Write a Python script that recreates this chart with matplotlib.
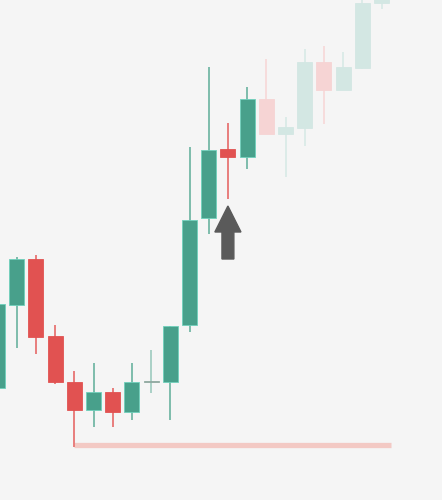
import matplotlib
matplotlib.use('Agg')
import matplotlib.pyplot as plt
from matplotlib.patches import FancyArrow

# 价格（读图估计，单位随意）
opens  = [112, 195, 241, 164, 118,  90, 108,  88, 118, 118, 175, 282, 351, 343, 401, 366, 372, 438, 410, 432, 497]
closes = [196, 241, 163, 118,  90, 108,  88, 118, 119, 174, 280, 350, 343, 401, 366, 373, 438, 410, 433, 497, 503]
highs  = [200, 243, 245, 175, 129, 137, 112, 137, 150, 174, 353, 433, 377, 413, 441, 383, 451, 454, 448, 510, 510]
lows   = [108, 152, 146, 116,  53,  73,  73,  80, 107,  80, 168, 266, 301, 331, 366, 323, 354, 376, 410, 431, 491]
# 0 = 正常, 1 = 十字星（偏灰）, 2 = 未来K线（很淡）
fade   = [0, 0, 0, 0, 0, 0, 0, 0, 1, 0, 0, 0, 0, 0, 2, 2, 2, 2, 2, 2, 2]

support_level = 55
support_span = (4, 20.5)
arrow_x, arrow_tail, arrow_tip = 12, 241, 294

BG = '#f5f5f5'
GREEN = {0: '#48a08b', 1: '#8fa8a0', 2: '#d3e7e3'}
RED = {0: '#e15251', 1: '#eeaaaa', 2: '#f6d4d4'}
WICK_G = {0: '#7dbcab', 1: '#a9d0c6', 2: '#dcebe8'}
WICK_R = {0: '#e87d7c', 1: '#eeaaaa', 2: '#f7dcdc'}

fig = plt.figure(figsize=(4.42, 5.0), dpi=100, facecolor=BG)
ax = fig.add_axes([0, 0, 1, 1])
ax.set_facecolor(BG)

W = 0.78
for i, (o, c, h, l, f) in enumerate(zip(opens, closes, highs, lows, fade)):
    up = c >= o
    col = GREEN[f] if up else RED[f]
    wick = WICK_G[f] if up else WICK_R[f]
    ax.vlines(i, l, h, color=wick, lw=1.4, zorder=2)
    bottom = min(o, c)
    height = max(abs(c - o), 1.2)
    edge = '#6fd0bc' if (up and f == 0) else col
    ax.bar(i, height, width=W, bottom=bottom, color=col, zorder=3,
           edgecolor=edge, linewidth=0.6)

# 支撑线
ax.hlines(support_level, support_span[0], support_span[1], color='#f3c9c4', lw=3.8, zorder=1)

# 箭头
ax.add_patch(FancyArrow(arrow_x, arrow_tail, 0, arrow_tip - arrow_tail,
                        width=0.62, head_width=1.36, head_length=26,
                        length_includes_head=True, color='#5a5a5a', zorder=4))

ax.set_xlim(0.13, 23.15)
ax.set_ylim(0, 500)
ax.axis('off')

plt.savefig('out.png', dpi=100, facecolor=BG)
